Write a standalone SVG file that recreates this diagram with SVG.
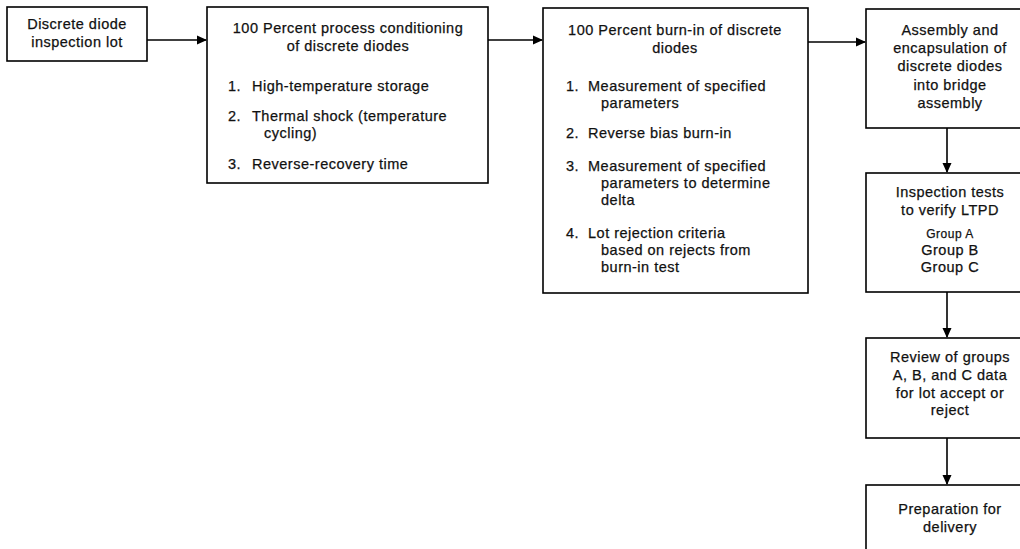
<svg xmlns="http://www.w3.org/2000/svg" width="1020" height="549" viewBox="0 0 1020 549">
<defs>
<marker id="ah" markerWidth="10" markerHeight="10" refX="9" refY="5" orient="auto" markerUnits="userSpaceOnUse">
<path d="M0,0.5 L10,5 L0,9.5 Z" fill="#000"/>
</marker>
<style>
.box{fill:#fff;stroke:#000;stroke-width:1.6}
text{font-family:"Liberation Sans",Arial,sans-serif;font-size:14.5px;letter-spacing:0.5px;fill:#111;stroke:#111;stroke-width:0.25}
.c{text-anchor:middle}
.conn{stroke:#000;stroke-width:1.6;fill:none;marker-end:url(#ah)}
</style>
</defs>
<rect width="1020" height="549" fill="#fff"/>
<g id="connectors">
<line class="conn" x1="147" y1="40" x2="206" y2="40"/>
<line class="conn" x1="488" y1="40" x2="542" y2="40"/>
<line class="conn" x1="808" y1="42" x2="865" y2="42"/>
<line class="conn" x1="947" y1="128" x2="947" y2="172"/>
<line class="conn" x1="947" y1="292" x2="947" y2="337"/>
<line class="conn" x1="947" y1="438" x2="947" y2="484"/>
</g>
<g id="n1">
<rect class="box" x="7" y="7" width="140" height="54"/>
<text class="c" x="77" y="29">Discrete diode</text>
<text class="c" x="77" y="47">inspection lot</text>
</g>
<g id="n2">
<rect class="box" x="207" y="7" width="281" height="176"/>
<text class="c" x="348" y="33">100 Percent process conditioning</text>
<text class="c" x="348" y="51">of discrete diodes</text>
<text x="228" y="91">1.</text><text x="252" y="91">High-temperature storage</text>
<text x="228" y="121">2.</text><text x="252" y="121">Thermal shock (temperature</text>
<text x="264" y="138">cycling)</text>
<text x="228" y="169">3.</text><text x="252" y="169">Reverse-recovery time</text>
</g>
<g id="n3">
<rect class="box" x="543" y="8" width="265" height="285"/>
<text class="c" x="675" y="35">100 Percent burn-in of discrete</text>
<text class="c" x="675" y="53">diodes</text>
<text x="566" y="91">1.</text><text x="588" y="91">Measurement of specified</text>
<text x="601" y="108">parameters</text>
<text x="566" y="138">2.</text><text x="588" y="138">Reverse bias burn-in</text>
<text x="566" y="171">3.</text><text x="588" y="171">Measurement of specified</text>
<text x="601" y="188">parameters to determine</text>
<text x="601" y="205">delta</text>
<text x="566" y="238">4.</text><text x="588" y="238">Lot rejection criteria</text>
<text x="601" y="255">based on rejects from</text>
<text x="601" y="272">burn-in test</text>
</g>
<g id="n4">
<rect class="box" x="866" y="9" width="170" height="119"/>
<text class="c" x="950" y="35">Assembly and</text>
<text class="c" x="950" y="53">encapsulation of</text>
<text class="c" x="950" y="71">discrete diodes</text>
<text class="c" x="950" y="90">into bridge</text>
<text class="c" x="950" y="108">assembly</text>
</g>
<g id="n5">
<rect class="box" x="866" y="173" width="170" height="119"/>
<text class="c" x="950" y="197">Inspection tests</text>
<text class="c" x="950" y="215">to verify LTPD</text>
<text class="c" x="950" y="238" style="font-size:12px">Group A</text>
<text class="c" x="950" y="255">Group B</text>
<text class="c" x="950" y="272">Group C</text>
</g>
<g id="n6">
<rect class="box" x="866" y="338" width="170" height="100"/>
<text class="c" x="950" y="362">Review of groups</text>
<text class="c" x="950" y="380">A, B, and C data</text>
<text class="c" x="950" y="398">for lot accept or</text>
<text class="c" x="950" y="415">reject</text>
</g>
<g id="n7">
<rect class="box" x="866" y="485" width="170" height="80"/>
<text class="c" x="950" y="514">Preparation for</text>
<text class="c" x="950" y="532">delivery</text>
</g>
</svg>
